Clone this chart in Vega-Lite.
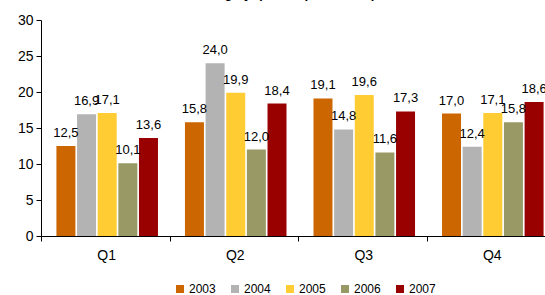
{
  "$schema": "https://vega.github.io/schema/vega-lite/v6.json",
  "width": 504,
  "height": 216,
  "autosize": {"type": "none"},
  "padding": {"left": 41, "top": 20, "right": 0, "bottom": 59},
  "config": {
    "locale": {"number": {"decimal": ",", "thousands": ".", "grouping": [3], "currency": ["", ""]}},
    "view": {"stroke": null},
    "font": "Liberation Sans"
  },
  "title": {
    "text": "Total lending by quarter (ISK billion)",
    "fontSize": 13,
    "fontWeight": "bold",
    "color": "#000000",
    "anchor": "middle",
    "frame": "group",
    "baseline": "alphabetic",
    "dx": -29,
    "dy": -2,
    "offset": 0
  },
  "data": {
    "values": [
      {"quarter": "Q1", "year": "2003", "value": 12.5},
      {"quarter": "Q1", "year": "2004", "value": 16.9},
      {"quarter": "Q1", "year": "2005", "value": 17.1},
      {"quarter": "Q1", "year": "2006", "value": 10.1},
      {"quarter": "Q1", "year": "2007", "value": 13.6},
      {"quarter": "Q2", "year": "2003", "value": 15.8},
      {"quarter": "Q2", "year": "2004", "value": 24.0},
      {"quarter": "Q2", "year": "2005", "value": 19.9},
      {"quarter": "Q2", "year": "2006", "value": 12.0},
      {"quarter": "Q2", "year": "2007", "value": 18.4},
      {"quarter": "Q3", "year": "2003", "value": 19.1},
      {"quarter": "Q3", "year": "2004", "value": 14.8},
      {"quarter": "Q3", "year": "2005", "value": 19.6},
      {"quarter": "Q3", "year": "2006", "value": 11.6},
      {"quarter": "Q3", "year": "2007", "value": 17.3},
      {"quarter": "Q4", "year": "2003", "value": 17.0},
      {"quarter": "Q4", "year": "2004", "value": 12.4},
      {"quarter": "Q4", "year": "2005", "value": 17.1},
      {"quarter": "Q4", "year": "2006", "value": 15.8},
      {"quarter": "Q4", "year": "2007", "value": 18.6}
    ]
  },
  "encoding": {
    "x": {
      "field": "quarter",
      "type": "nominal",
      "scale": {"range": [0, 518], "paddingInner": 0.21, "paddingOuter": 0.12},
      "axis": {
        "title": null,
        "labelAngle": 0,
        "labelFontSize": 14,
        "labelColor": "#000000",
        "labelPadding": 7,
        "domainColor": "#000000",
        "tickColor": "#000000",
        "tickSize": 5,
        "tickOffset": -66,
        "labelOffset": 65
      }
    },
    "xOffset": {
      "field": "year",
      "type": "nominal",
      "scale": {"paddingInner": 0.08, "paddingOuter": 0}
    },
    "y": {
      "field": "value",
      "type": "quantitative",
      "scale": {"domain": [0, 30]},
      "axis": {
        "title": null,
        "values": [0, 5, 10, 15, 20, 25, 30],
        "grid": false,
        "labelFontSize": 14,
        "labelColor": "#000000",
        "labelPadding": 3,
        "domainColor": "#000000",
        "tickColor": "#000000",
        "tickSize": 5
      }
    }
  },
  "layer": [
    {
      "mark": {"type": "bar"},
      "encoding": {
        "color": {
          "field": "year",
          "type": "nominal",
          "scale": {
            "domain": ["2003", "2004", "2005", "2006", "2007"],
            "range": ["#CC6600", "#B3B3B3", "#FFCC33", "#999966", "#990000"]
          },
          "legend": {
            "title": null,
            "orient": "none",
            "direction": "horizontal",
            "legendX": 133,
            "legendY": 263,
            "symbolType": "square",
            "symbolSize": 64,
            "symbolStrokeWidth": 0,
            "symbolOpacity": 1,
            "labelFontSize": 12,
            "labelColor": "#000000",
            "labelOffset": 3,
            "columnPadding": 13
          }
        }
      }
    },
    {
      "mark": {"type": "text", "baseline": "alphabetic", "dy": -9, "fontSize": 13, "color": "#000000"},
      "encoding": {
        "text": {"field": "value", "type": "quantitative", "format": ".1f"}
      }
    }
  ]
}
